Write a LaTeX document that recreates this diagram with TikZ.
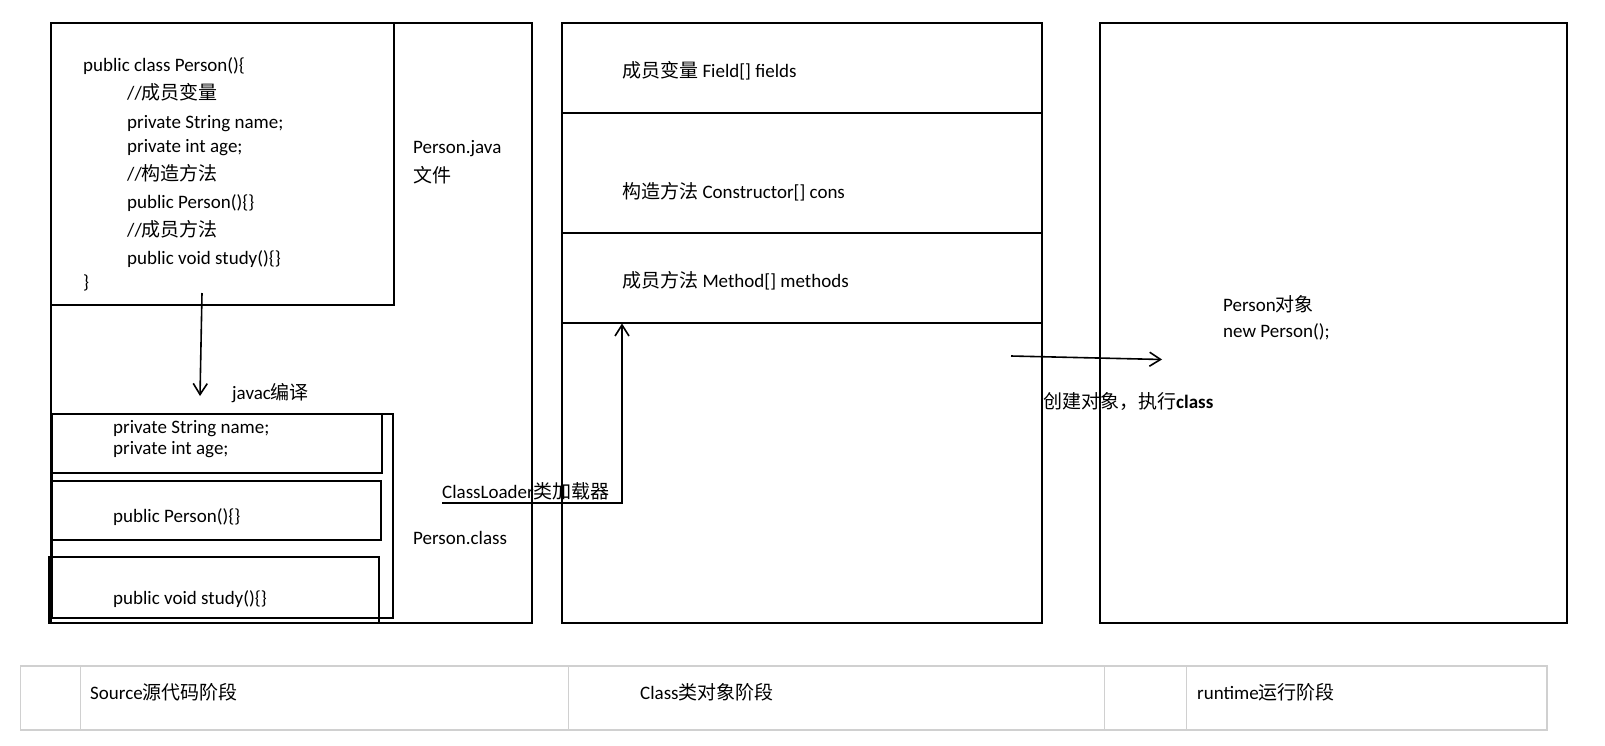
\documentclass[tikz,border=0pt]{standalone}
\usepackage{fontspec}
\setmainfont{Carlito}
\newfontfamily\cjk{Noto Sans CJK SC}
\usetikzlibrary{arrows.meta}
\definecolor{tblgray}{HTML}{D0D0D0}
\tikzset{
  box/.style={draw=black, line width=2pt},
  txt/.style={anchor=base west, inner sep=0pt, font=\fontsize{19}{23}\selectfont},
  conn/.style={line width=1.6pt, -{Straight Barb[length=11pt,width=14pt,line width=1.6pt]}},
  tline/.style={draw=tblgray, line width=1pt},
  tframe/.style={draw=tblgray, line width=1.6pt},
}
\begin{document}
\begin{tikzpicture}[x=1pt,y=-1pt]
\useasboundingbox[fill=white] (0,0) rectangle (1605,745);

% ---------- Source stage ----------
\draw[box] (51,22.5) rectangle (532,623);
\draw[box] (51,22.5) rectangle (394,305);
\node[txt] (l1) at (83,71)  {public class Person()\{};
\node[txt] (l2) at (127,99) {//{\cjk 成员变量}};
\node[txt] (l3) at (127,128) {private String name;};
\node[txt] (l4) at (127,152) {private int age;};
\node[txt] (l5) at (127,180) {//{\cjk 构造方法}};
\node[txt] (l6) at (127,208) {public Person()\{\}};
\node[txt] (l7) at (127,236) {//{\cjk 成员方法}};
\node[txt] (l8) at (127,264) {public void study()\{\}};
\node[txt] (l9) at (83,288)  {\}};
\node[txt] (pjava) at (413,153) {Person.java};
\node[txt] (pjava2) at (413,182) {\cjk 文件};

\coordinate (jstart) at (202,293);
\coordinate (jend) at (200,396);
\draw[conn] (jstart) -- (jend);
\node[txt] (javac) at (232,399) {javac{\cjk 编译}};

\draw[box] (52,414) rectangle (393,618);
\draw[box] (52,414) rectangle (382,473);
\draw[box] (51,481) rectangle (381,540);
\draw[box] (49,557) rectangle (379,623);
\node[txt] (c1) at (113,433) {private String name;};
\node[txt] (c2) at (113,454) {private int age;};
\node[txt] (c3) at (113,522) {public Person()\{\}};
\node[txt] (c4) at (113,604) {public void study()\{\}};
\node[txt] (pclass) at (413,544) {Person.class};

% ---------- Class stage ----------
\draw[box] (562,22.5) rectangle (1042,623);
\draw[box] (562,113) -- (1042,113);
\draw[box] (562,233) -- (1042,233);
\draw[box] (562,323) -- (1042,323);
\node[txt] (m1) at (622,77)  {{\cjk 成员变量} Field[] fields};
\node[txt] (m2) at (622,198) {{\cjk 构造方法} Constructor[] cons};
\node[txt] (m3) at (622,287) {{\cjk 成员方法} Method[] methods};

\node[txt] (loader) at (442,498) {ClassLoader{\cjk 类加载器}};
\coordinate (ls) at (442,503);
\coordinate (lc) at (622,503);
\coordinate (le) at (622,323.5);
\draw[conn] (ls) -- (lc) -- (le);

% ---------- Runtime stage ----------
\draw[box] (1100,22.5) rectangle (1567,623);
\node[txt] (o1) at (1223,311) {Person{\cjk 对象}};
\node[txt] (o2) at (1223,337) {new Person();};
\coordinate (as) at (1011,356);
\coordinate (ae) at (1162,359.5);
\draw[conn] (as) -- (ae);
\node[txt] (create) at (1043,408) {{\cjk 创建对象，执行}\textbf{class}};

% ---------- Table ----------
\draw[tline] (80,666) -- (80,730);
\draw[tline] (568,666) -- (568,730);
\draw[tline] (1104.5,666) -- (1104.5,730);
\draw[tline] (1186,666) -- (1186,730);
\draw[tframe] (20.5,666) rectangle (1547,730);
\node[txt] (t1) at (90,699) {Source{\cjk 源代码阶段}};
\node[txt] (t2) at (640,699) {Class{\cjk 类对象阶段}};
\node[txt] (t3) at (1197,699) {runtime{\cjk 运行阶段}};
\end{tikzpicture}
\end{document}
